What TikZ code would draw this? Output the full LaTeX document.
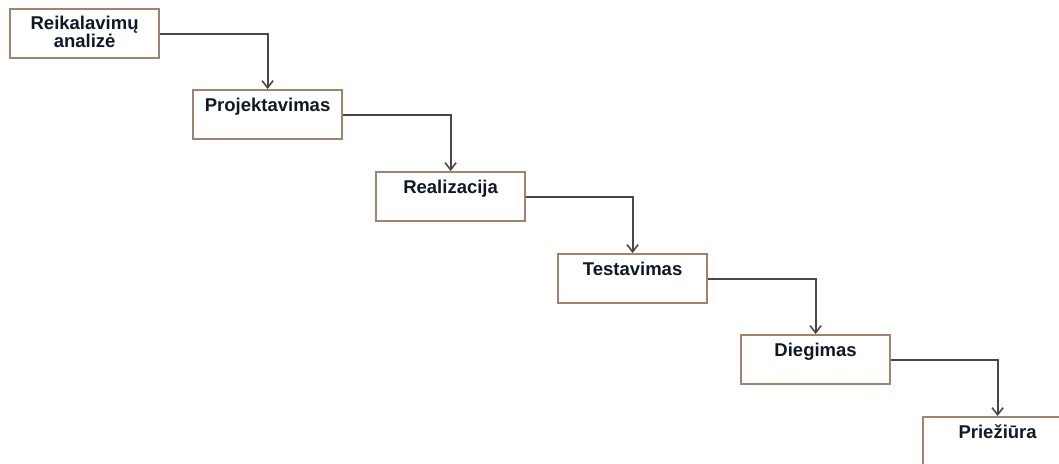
\documentclass[tikz,border=0pt]{standalone}
\usepackage{fontspec}
\setmainfont{Liberation Sans}
\usetikzlibrary{arrows.meta}
\definecolor{boxedge}{HTML}{A08470}
\definecolor{linkgray}{HTML}{484848}
\definecolor{txt}{HTML}{101828}
\begin{document}
\begin{tikzpicture}[x=1pt,y=-1pt,
  phase/.style={draw=boxedge,line width=2.2pt,fill=white,rectangle,
    minimum width=149pt,minimum height=49pt,inner sep=0pt,anchor=north west},
  phasetext/.style={font=\bfseries\fontsize{18.5}{18}\selectfont,text=txt,
    anchor=base,inner sep=0pt,align=center},
  link/.style={draw=linkgray,line width=2pt,
    -{Straight Barb[length=7pt,width=11pt,line width=1.6pt]}}]
\useasboundingbox (0,0) rectangle (1059,463);
% phase boxes, stepping down to the right
\node[phase] (b1) at (9,8) {};
\node[phase] (b2) at (192,89) {};
\node[phase] (b3) at (375,171) {};
\node[phase] (b4) at (557,253) {};
\node[phase] (b5) at (740,334) {};
\node[phase] (b6) at (922,416) {};
% phase titles near the top of each box (a two-line title sits on its last baseline)
\node[phasetext] (t1) at ([yshift=-39.5pt]b1.north) {Reikalavimų\\analizė};
\node[phasetext] (t2) at ([yshift=-22pt]b2.north) {Projektavimas};
\node[phasetext] (t3) at ([yshift=-22pt]b3.north) {Realizacija};
\node[phasetext] (t4) at ([yshift=-22pt]b4.north) {Testavimas};
\node[phasetext] (t5) at ([yshift=-22pt]b5.north) {Diegimas};
\node[phasetext] (t6) at ([yshift=-22pt]b6.north) {Priežiūra};
% elbow connectors between consecutive phases
\draw[link] (b1.east) -| (b2.north);
\draw[link] (b2.east) -| (b3.north);
\draw[link] (b3.east) -| (b4.north);
\draw[link] (b4.east) -| (b5.north);
\draw[link] (b5.east) -| (b6.north);
\end{tikzpicture}
\end{document}
